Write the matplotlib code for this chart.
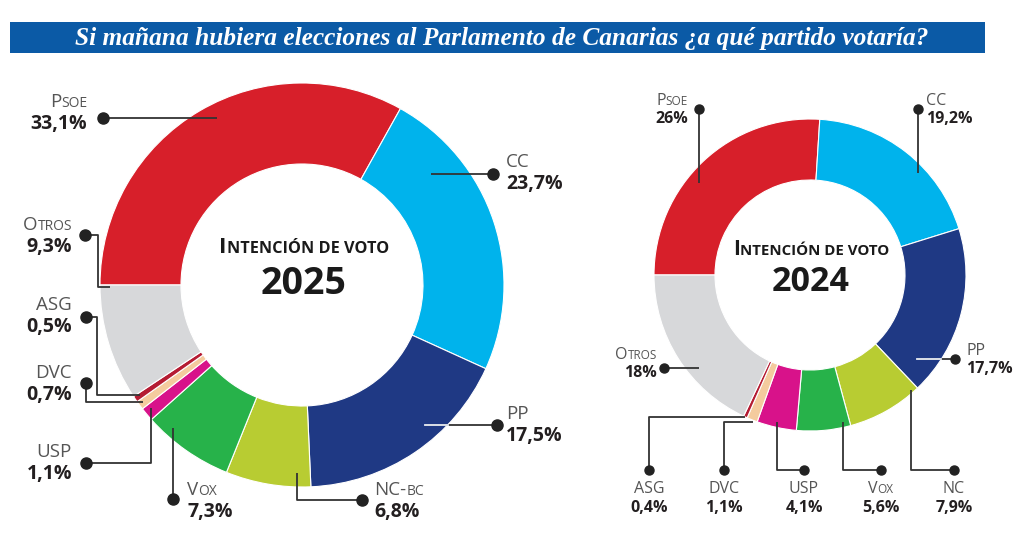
import matplotlib
matplotlib.use('Agg')
import matplotlib.pyplot as plt
from matplotlib.patches import Rectangle
import math

W, H = 1024, 545

# ---------------- data ----------------
parties_2025 = ["Psoe", "CC", "PP", "NC-bc", "Vox", "USP", "DVC", "ASG", "Otros"]
values_2025 = [33.1, 23.7, 17.5, 6.8, 7.3, 1.1, 0.7, 0.5, 9.3]
parties_2024 = ["Psoe", "CC", "PP", "NC", "Vox", "USP", "DVC", "ASG", "Otros"]
values_2024 = [26, 19.2, 17.7, 7.9, 5.6, 4.1, 1.1, 0.4, 18]
party_colors = ["#D71F2A", "#00B3EC", "#1F3984", "#B8CC32", "#27B24A",
                "#D8128A", "#F4CB9E", "#B51C33", "#D7D8DA"]
title = "Si mañana hubiera elecciones al Parlamento de Canarias ¿a qué partido votaría?"
center_label = "Intención de voto"
years = ["2025", "2024"]

FONT = "Open Sans"
NAME_COLOR = "#555555"
PCT_COLOR = "#231f20"
LINE_COLOR = "#333333"

fig = plt.figure(figsize=(W / 100, H / 100), dpi=100)
ax = fig.add_axes([0, 0, 1, 1])
renderer = fig.canvas.get_renderer()


def Y(py):
    return H - py


def fmt(v):
    return f"{v:g}".replace(".", ",") + "%"


def text_width(s, size, weight):
    t = ax.text(0, 0, s, fontsize=size, fontweight=weight, family=FONT)
    w = t.get_window_extent(renderer).width
    t.remove()
    return w


def smallcaps(x, py, s, size, ha="left", color=NAME_COLOR, weight="normal", ratio=0.74):
    runs = []
    for ch in s:
        small = not (ch.isupper() or ch == "-")
        c = ch.upper()
        if runs and runs[-1][1] == small:
            runs[-1][0] += c
        else:
            runs.append([c, small])
    pieces = []
    total = 0
    for txt, small in runs:
        sz = size * ratio if small else size
        w = text_width(txt, sz, weight)
        pieces.append((txt, sz, w))
        total += w
    if ha == "right":
        x0 = x - total
    elif ha == "center":
        x0 = x - total / 2
    else:
        x0 = x
    for txt, sz, w in pieces:
        ax.text(x0, Y(py), txt, fontsize=sz, fontweight=weight, family=FONT,
                color=color, ha="left", va="baseline")
        x0 += w


def leader(points, ms, white_to=None):
    xs = [p[0] for p in points]
    ys = [Y(p[1]) for p in points]
    ax.plot(xs, ys, color=LINE_COLOR, lw=1.3, solid_capstyle="butt", zorder=5)
    if white_to is not None:
        (x1, y1), x2 = white_to
        ax.plot([x1, x2], [Y(y1), Y(y1)], color="#e8eef7", lw=1.3, zorder=6)
    ax.plot(xs[0], ys[0], "o", color="#222222", ms=ms, zorder=7)


def donut(values, cx, cy, R, r):
    ax.pie(values, colors=party_colors, startangle=180, counterclock=False,
           radius=R, center=(cx, Y(cy)),
           wedgeprops=dict(width=R - r, edgecolor="white", linewidth=0.8))


# ---------------- title bar ----------------
ax.add_patch(Rectangle((10, Y(53)), 975, 31, facecolor="#0B5AA6", edgecolor="none"))
ax.text(502, Y(38), title, family="Liberation Serif", fontweight="bold", style="italic",
        fontsize=18.3, color="white", ha="center", va="center")

# ---------------- donuts ----------------
L_CX, L_CY, L_R, L_r = 302, 285, 202, 121
R_CX, R_CY, R_R, R_r = 810, 275, 156, 95
donut(values_2025, L_CX, L_CY, L_R, L_r)
donut(values_2024, R_CX, R_CY, R_R, R_r)

# center texts
smallcaps(L_CX + 2, 253, center_label, 16.2, ha="center", color="#1a1a1a", weight="bold", ratio=0.72)
ax.text(L_CX + 2, Y(294), years[0], fontsize=27, fontweight="bold", family=FONT,
        color="#1a1a1a", ha="center", va="baseline")
smallcaps(R_CX + 1, 255, center_label, 15, ha="center", color="#1a1a1a", weight="bold", ratio=0.72)
ax.text(R_CX + 1, Y(291), years[1], fontsize=24.5, fontweight="bold", family=FONT,
        color="#1a1a1a", ha="center", va="baseline")

# ---------------- labels 2025 ----------------
# (x, name baseline, align, leader points)
layout_2025 = {
    "Psoe": (87, 107, "right", [(103, 118), (217, 118)]),
    "CC": (506, 167, "left", [(493, 174), (431, 174)]),
    "PP": (506, 419, "left", [(497, 425), (425, 425)]),
    "NC-bc": (374, 495, "left", [(362, 500), (297, 500), (297, 473)]),
    "Vox": (187, 495, "left", [(173, 499), (173, 428)]),
    "USP": (72, 457, "right", [(86, 463), (151, 463), (151, 408)]),
    "DVC": (72, 378, "right", [(86, 383), (86, 402), (143, 402)]),
    "ASG": (72, 310, "right", [(86, 317), (97, 317), (97, 395), (140, 395)]),
    "Otros": (72, 230, "right", [(85, 235), (98, 235), (98, 287), (110, 287)]),
}
for name, val in zip(parties_2025, values_2025):
    x, nb, ha, pts = layout_2025[name]
    smallcaps(x, nb, name, 13.5, ha=ha)
    ax.text(x, Y(nb + 22), fmt(val), fontsize=14, fontweight="bold", family=FONT,
            color=PCT_COLOR, ha=ha, va="baseline")
    white = None
    if name == "PP":
        dy = pts[1][1] - L_CY
        white = (pts[1], L_CX + math.sqrt(L_R ** 2 - dy ** 2))
    leader(pts, 8, white)

# ---------------- labels 2024 ----------------
layout_2024 = {
    "Psoe": (688, 105, "right", [(699, 109), (699, 183)]),
    "CC": (926, 105, "left", [(918, 109), (918, 173)]),
    "PP": (966, 355, "left", [(955, 359), (917, 359)]),
    "NC": (954, 493, "center", [(954, 470), (911, 470), (911, 390)]),
    "Vox": (881, 493, "center", [(881, 470), (843, 470), (843, 422)]),
    "USP": (804, 493, "center", [(804, 470), (777, 470), (777, 422)]),
    "DVC": (724, 493, "center", [(724, 470), (724, 422), (753, 422)]),
    "ASG": (649, 493, "center", [(649, 470), (649, 417), (745, 417)]),
    "Otros": (657, 359, "right", [(664, 368), (699, 368)]),
}
for name, val in zip(parties_2024, values_2024):
    x, nb, ha, pts = layout_2024[name]
    smallcaps(x, nb, name, 11.5, ha=ha)
    off = 19 if ha == "center" else 18
    ax.text(x, Y(nb + off), fmt(val), fontsize=11.5, fontweight="bold", family=FONT,
            color=PCT_COLOR, ha=ha, va="baseline")
    white = None
    if name == "PP":
        dy = pts[1][1] - R_CY
        white = (pts[1], R_CX + math.sqrt(R_R ** 2 - dy ** 2))
    leader(pts, 6.5, white)

ax.set_xlim(0, W)
ax.set_ylim(0, H)
ax.set_aspect("equal")
ax.axis("off")
fig.savefig("out.png", dpi=100, facecolor="white")
